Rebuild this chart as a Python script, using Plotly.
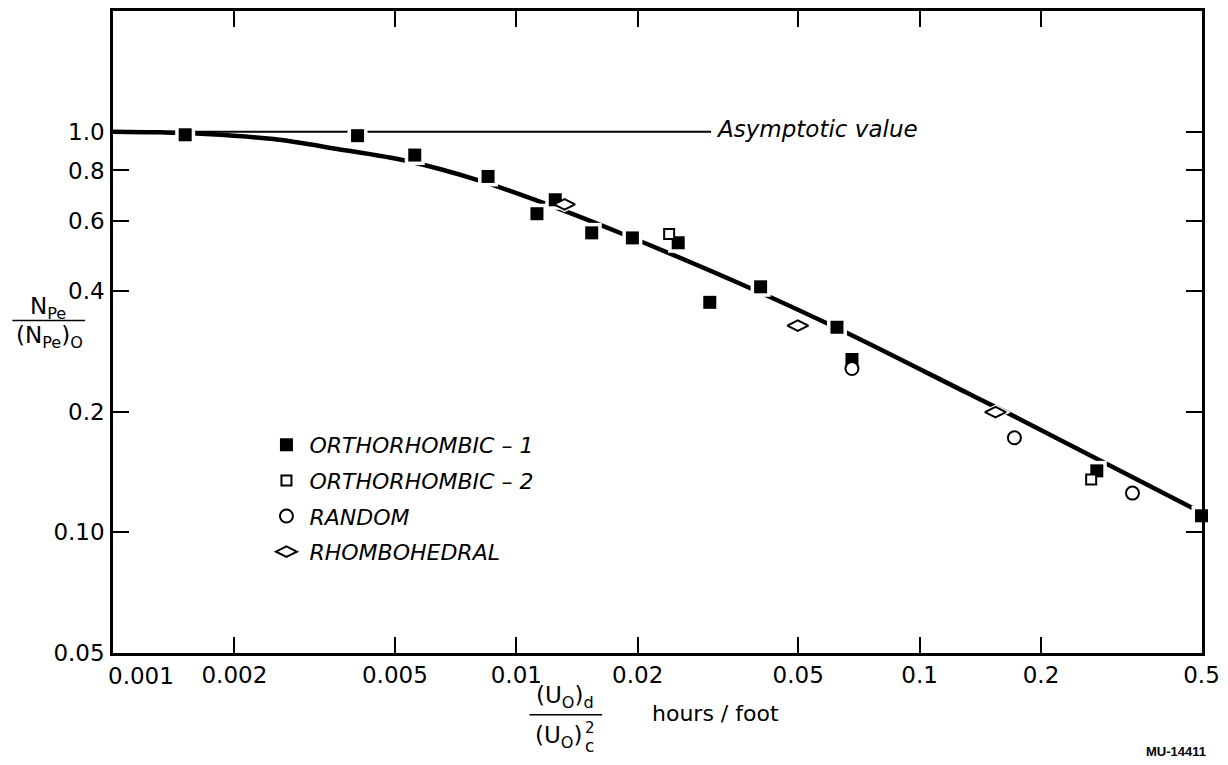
import numpy as np
import plotly.graph_objects as go

# ---------------- data ----------------
ortho1_x = [0.00151, 0.00404, 0.00560, 0.00851, 0.01249, 0.01125, 0.01538, 0.01940,
            0.02520, 0.03018, 0.04034, 0.06238, 0.06796, 0.2750, 0.5]
ortho1_y = [0.982, 0.977, 0.874, 0.773, 0.676, 0.624, 0.559, 0.543,
            0.528, 0.375, 0.410, 0.325, 0.270, 0.1424, 0.110]

ortho2_x = [0.02393, 0.2663]
ortho2_y = [0.555, 0.1355]

random_x = [0.06796, 0.1718, 0.3371]
random_y = [0.2563, 0.1722, 0.1253]

rhombo_x = [0.01317, 0.04989, 0.1542]
rhombo_y = [0.658, 0.328, 0.1995]

curve_x = [0.001, 0.0013, 0.0017, 0.0025, 0.0036, 0.0053, 0.0081, 0.0118,
           0.0183, 0.0382, 0.0663, 0.131, 0.168, 0.5]
curve_y = [1.0, 0.996, 0.986, 0.958, 0.905, 0.847, 0.755, 0.661,
           0.556, 0.406, 0.314, 0.223, 0.197, 0.112]

asym_x = [0.001, 0.0304]
asym_y = [1.0, 1.0]

x_tickvals = [0.001, 0.002, 0.005, 0.01, 0.02, 0.05, 0.1, 0.2, 0.5]
x_ticktext = ["", "0.002", "0.005", "0.01", "0.02", "0.05", "0.1", "0.2", "0.5"]
x_first_label = "0.001"   # drawn slightly right of its tick, as in the reference
y_tickvals = [0.05, 0.1, 0.2, 0.4, 0.6, 0.8, 1.0]
y_ticktext = ["0.05", "0.10", "0.2", "0.4", "0.6", "0.8", "1.0"]

series_names = ["ORTHORHOMBIC \u2013 1", "ORTHORHOMBIC \u2013 2", "RANDOM", "RHOMBOHEDRAL"]

FONT = "DejaVu Sans"

fig = go.Figure()

# asymptote and fitted curve
fig.add_trace(go.Scatter(x=asym_x, y=asym_y, mode="lines",
                         line=dict(color="black", width=2), showlegend=False, hoverinfo="skip"))
fig.add_trace(go.Scatter(x=curve_x, y=curve_y, mode="lines",
                         line=dict(color="black", width=4.5, shape="spline", smoothing=0.8),
                         showlegend=False, hoverinfo="skip"))

# white halos breaking the curve around markers
for xs, ys, sym, s in [(ortho1_x, ortho1_y, "square", 13), (rhombo_x, rhombo_y, "diamond-wide", 15),
                       (ortho2_x, ortho2_y, "square", 12), (random_x, random_y, "circle", 15)]:
    fig.add_trace(go.Scatter(x=xs, y=ys, mode="markers", cliponaxis=False,
                             marker=dict(symbol=sym, size=s + 7, color="white", line=dict(width=0)),
                             showlegend=False, hoverinfo="skip"))

fig.add_trace(go.Scatter(x=ortho1_x, y=ortho1_y, mode="markers", name=series_names[0],
                         legendrank=1, legendgroup="a", cliponaxis=False,
                         marker=dict(symbol="square", size=13, color="black", line=dict(width=0))))
fig.add_trace(go.Scatter(x=rhombo_x, y=rhombo_y, mode="markers", name=series_names[3],
                         legendrank=4, legendgroup="d", cliponaxis=False,
                         marker=dict(symbol="diamond-wide", size=15, color="white",
                                     line=dict(width=2, color="black"))))
fig.add_trace(go.Scatter(x=ortho2_x, y=ortho2_y, mode="markers", name=series_names[1],
                         legendrank=2, legendgroup="b", cliponaxis=False,
                         marker=dict(symbol="square", size=10, color="white",
                                     line=dict(width=2, color="black"))))
fig.add_trace(go.Scatter(x=random_x, y=random_y, mode="markers", name=series_names[2],
                         legendrank=3, legendgroup="c", cliponaxis=False,
                         marker=dict(symbol="circle", size=13, color="white",
                                     line=dict(width=2, color="black"))))

axis_common = dict(type="log", showgrid=False, zeroline=False, showline=True,
                   linecolor="black", linewidth=2.5, mirror="ticks", ticks="inside",
                   ticklen=16, tickwidth=2, tickcolor="black",
                   tickfont=dict(family=FONT, size=23, color="black"))

fig.update_xaxes(range=[np.log10(0.001), np.log10(0.5) + 0.0012], tickvals=x_tickvals,
                 ticktext=x_ticktext, ticklabelstandoff=0, **axis_common)
fig.update_yaxes(range=[np.log10(0.05), np.log10(2.0)], tickvals=y_tickvals,
                 ticktext=y_ticktext, ticklabelstandoff=1, **axis_common)

# paper-coordinate helpers for outside labels
L, R, T, B = 113, 22, 8, 112
W, H = 1228, 765
pw, ph = W - L - R, H - T - B


def px(xp):
    return (xp - L) / pw


def py(yp):
    return (H - B - yp) / ph


def note(xpix, ypix, text, size=23, xanchor="center", style="normal"):
    return dict(x=px(xpix), y=py(ypix), xref="paper", yref="paper", showarrow=False,
                xanchor=xanchor, yanchor="middle", text=text,
                font=dict(family=FONT, size=size, color="black", style=style))


annots = [
    dict(x=np.log10(0.0304), y=0.0, xref="x", yref="y", xanchor="left", yanchor="middle",
         xshift=3, yshift=3, showarrow=False, text="Asymptotic value",
         font=dict(family=FONT, size=23, color="black", style="italic")),
    note(141, 676, x_first_label),
    # y-axis title as a fraction
    note(48, 306, "N<sub>Pe</sub>"),
    note(49, 336, "(N<sub>Pe</sub>)<sub>O</sub>"),
    # x-axis title as a fraction
    note(567, 697, "(U<sub>O</sub>)<sub>d</sub>"),
    note(560, 737, "(U<sub>O</sub>)"),
    note(585, 728, "2", size=15, xanchor="left"),
    note(585, 746, "c", size=17, xanchor="left"),
    note(652, 714, "hours / foot", size=22, xanchor="left"),
    dict(x=px(1212), y=py(752), xref="paper", yref="paper", showarrow=False,
         xanchor="right", yanchor="middle", text="<b>MU-14411</b>",
         font=dict(family="Liberation Sans", size=13, color="black")),
]

shapes = [
    dict(type="line", xref="paper", yref="paper", x0=px(12), x1=px(85), y0=py(319), y1=py(319),
         line=dict(color="black", width=1.5)),
    dict(type="line", xref="paper", yref="paper", x0=px(531), x1=px(604), y0=py(715), y1=py(715),
         line=dict(color="black", width=1.5)),
]

fig.update_layout(
    width=W, height=H, autosize=False,
    margin=dict(l=L, r=R, t=T, b=B, pad=0),
    paper_bgcolor="white", plot_bgcolor="white",
    annotations=annots, shapes=shapes,
    legend=dict(x=px(264), y=py(423), xanchor="left", yanchor="top", itemwidth=36,
                bgcolor="rgba(0,0,0,0)", borderwidth=0, tracegroupgap=4,
                font=dict(family=FONT, size=22, color="black", style="italic")),
    font=dict(family=FONT, color="black"),
)

fig.write_html("out.html", config={"displayModeBar": False},
               post_script="document.body.style.margin='0';")
